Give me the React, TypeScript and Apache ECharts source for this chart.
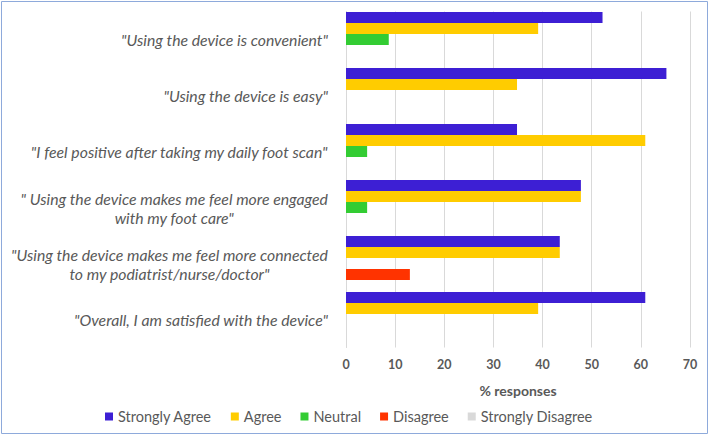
import React, { useEffect, useRef } from "react";
import * as echarts from "echarts";

const categories: string[][] = [
  ['"Using the device is convenient"'],
  ['"Using the device is easy"'],
  ['"I feel positive after taking my daily foot scan"'],
  ['" Using the device makes me feel more engaged', 'with my foot care"'],
  ['"Using the device makes me feel more connected', 'to my podiatrist/nurse/doctor"'],
  ['"Overall, I am satisfied with the device"'],
];
const seriesNames = ["Strongly Agree", "Agree", "Neutral", "Disagree", "Strongly Disagree"];
const stronglyAgree = [52.2, 65.2, 34.8, 47.8, 43.5, 60.9];
const agree = [39.1, 34.8, 60.9, 47.8, 43.5, 39.1];
const neutral = [8.7, 0, 4.3, 4.3, 0, 0];
const disagree = [0, 0, 0, 0, 13.0, 0];
const stronglyDisagree = [0, 0, 0, 0, 0, 0];
const xTicks = [0, 10, 20, 30, 40, 50, 60, 70];
const colors = ["#3d1fd4", "#ffcc00", "#33cc33", "#ff3300", "#d9d9d9"];

export default function App() {
  const ref = useRef<HTMLDivElement>(null);
  useEffect(() => {
    document.body.style.margin = "0";
    const chart = echarts.init(ref.current!, null, { renderer: "svg" });
    const labelFont = "Lato, 'Noto Sans', sans-serif";
    const allData = [stronglyAgree, agree, neutral, disagree, stronglyDisagree];
    chart.setOption({
      animation: false,
      backgroundColor: "#ffffff",
      graphic: [
        {
          type: "rect",
          shape: { x: 1.5, y: 1.5, width: 706, height: 432 },
          style: { fill: "none", stroke: "#8eaadb", lineWidth: 1 },
          silent: true,
        },
      ],
      grid: { left: 346, right: 19, top: 11.5, bottom: 88.5, containLabel: false },
      legend: {
        left: 105,
        top: 409,
        padding: 0,
        itemWidth: 8,
        itemHeight: 8,
        itemGap: 19,
        icon: "rect",
        textStyle: { fontFamily: labelFont, fontSize: 14.5, color: "#595959" },
        data: seriesNames,
      },
      xAxis: {
        type: "value",
        min: xTicks[0],
        max: xTicks[xTicks.length - 1],
        interval: 10,
        name: "% responses",
        nameLocation: "middle",
        nameGap: 36,
        nameTextStyle: { fontFamily: labelFont, fontSize: 14, fontWeight: "bold", color: "#595959" },
        axisLabel: { fontFamily: labelFont, fontSize: 12.5, fontWeight: "bold", color: "#595959", margin: 10 },
        axisLine: { show: false },
        axisTick: { show: false },
        splitLine: { lineStyle: { color: "#d9d9d9", width: 1 } },
      },
      yAxis: {
        type: "category",
        inverse: true,
        data: categories.map((c) => c.join("\n")),
        axisLine: { show: true, lineStyle: { color: "#d9d9d9" } },
        axisTick: { show: false },
        axisLabel: {
          margin: 18,
          fontFamily: labelFont,
          fontStyle: "italic",
          fontSize: 15.8,
          color: "#595959",
          lineHeight: 19,
          formatter: (v: string) => v.split("\n").map((l) => `{c|${l}}`).join("\n"),
          rich: {
            c: {
              align: "center",
              fontFamily: labelFont,
              fontStyle: "italic",
              fontSize: 15.8,
              color: "#595959",
              lineHeight: 19,
            },
          },
        },
      },
      series: seriesNames.map((name, i) => ({
        name,
        type: "bar",
        data: allData[i],
        itemStyle: { color: colors[i] },
        barGap: "0%",
        barCategoryGap: "2%",
      })),
    });
    return () => chart.dispose();
  }, []);
  return <div ref={ref} style={{ position: "absolute", left: 0, top: 0, width: 709, height: 436 }} />;
}
